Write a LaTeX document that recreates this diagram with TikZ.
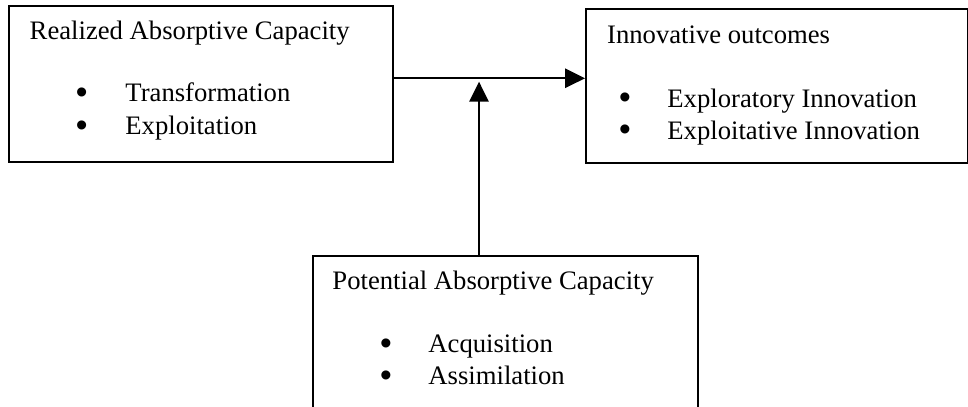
\documentclass[tikz,border=0pt]{standalone}
\usepackage{fontspec}
\setmainfont{Liberation Serif}
\newfontfamily\bulletfont{Liberation Sans}
\usetikzlibrary{arrows.meta}
\begin{document}
\begin{tikzpicture}[x=0.45pt,y=-0.45pt,
  box/.style={draw, line width=0.9pt, inner sep=0, anchor=north west},
  txt/.style={inner sep=0, anchor=base west, font=\fontsize{12}{14}\selectfont},
  bul/.style={inner sep=0, anchor=center, font=\bulletfont\fontsize{15}{15}\selectfont},
  arr/.style={-{Triangle[length=9pt,width=8.7pt]}, line width=0.9pt}]
\useasboundingbox (0,0) rectangle (968,407);
\clip (0,0) rectangle (968,407);
% boxes
\node[box, minimum width=172.9pt, minimum height=70.2pt] (r) at (7.5,5) {};
\node[box, minimum width=172pt, minimum height=69.3pt] (o) at (585,8.3) {};
\node[box, minimum width=173.25pt, minimum height=90pt] (p) at (311.7,255) {};
% box 1 text
\node[txt] (rt) at (29.3,40) {Realized Absorptive Capacity};
\node[bul] (rb1) at (81.7,95.5) {•};
\node[txt] (rl1) at (125,102) {Transformation};
\node[bul] (rb2) at (81.7,128.5) {•};
\node[txt] (rl2) at (125,135) {Exploitation};
% box 2 text
\node[txt] (ot) at (606.7,43.3) {Innovative outcomes};
\node[bul] (ob1) at (625,100.5) {•};
\node[txt] (ol1) at (667,107.5) {Exploratory Innovation};
\node[bul] (ob2) at (625,132.5) {•};
\node[txt] (ol2) at (667,139.5) {Exploitative Innovation};
% box 3 text
\node[txt] (pt) at (332,290) {Potential Absorptive Capacity};
\node[bul] (pb1) at (386,346.5) {•};
\node[txt] (pl1) at (428,353) {Acquisition};
\node[bul] (pb2) at (386,378.5) {•};
\node[txt] (pl2) at (428,385) {Assimilation};
% connectors
\coordinate (h) at (0,78.3);
\coordinate (j) at (479,81.7);
\draw[arr] (r.east |- h) -- (o.west |- h);
\draw[arr] (p.north -| j) -- (j);
\end{tikzpicture}
\end{document}
